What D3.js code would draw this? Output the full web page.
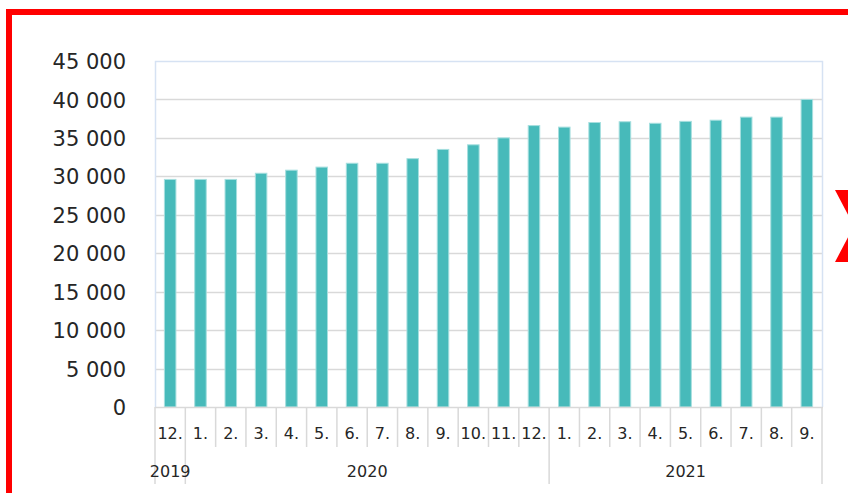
<!DOCTYPE html>
<html>
<head>
<meta charset="utf-8">
<script src="https://cdn.jsdelivr.net/npm/d3@7"></script>
<style>
  html, body { margin: 0; padding: 0; background: #fff; overflow: hidden; }
  svg { display: block; }
</style>
</head>
<body>
<svg id="chart" width="848" height="493"></svg>
<script>
// ---- data ----
const months = ["12.", "1.", "2.", "3.", "4.", "5.", "6.", "7.", "8.", "9.", "10.", "11.",
                "12.", "1.", "2.", "3.", "4.", "5.", "6.", "7.", "8.", "9."];
const values = [29600, 29600, 29600, 30400, 30800, 31200, 31700, 31700, 32300, 33500, 34100, 35000,
                36600, 36400, 37000, 37100, 36900, 37150, 37300, 37700, 37700, 40000];
const years = ["2019", "2020", "2021"];
const yearStart = [0, 1, 13];
const yearEnd = [0, 12, 21];
const yTicks = [0, 5000, 10000, 15000, 20000, 25000, 30000, 35000, 40000, 45000];

(function () {
// ---- layout ----
const W = 848, H = 493;
const pL = 155, pR = 822, pT = 61, pB = 407;
const svg = d3.select("#chart");
const fontFam = "'DejaVu Sans', sans-serif";

svg.append("rect").attr("width", W).attr("height", H).attr("fill", "#fff");

const x = d3.scaleBand().domain(d3.range(values.length)).range([pL, pR])
  .paddingInner(0.62).paddingOuter(0.31);
const y = d3.scaleLinear().domain([0, 45000]).range([pB, pT]);
const step = x.step();
const boundary = i => x(i) - step * x.paddingInner() / 2; // left edge of category i

// gridlines
svg.append("g").selectAll("line").data(yTicks.filter(t => t > 0 && t < 45000)).join("line")
  .attr("x1", pL).attr("x2", pR)
  .attr("y1", d => Math.round(y(d)) + 0.5).attr("y2", d => Math.round(y(d)) + 0.5)
  .attr("stroke", "#d9d9d9").attr("stroke-width", 1.5);

// plot border (light blue)
svg.append("path")
  .attr("d", `M${pL + 0.5},${pB} V${pT + 0.5} H${pR + 0.5} V${pB}`)
  .attr("fill", "none").attr("stroke", "#d6e2f3").attr("stroke-width", 1.5);

// bars
svg.append("g").selectAll("rect").data(values).join("rect")
  .attr("x", (d, i) => x(i))
  .attr("y", d => y(d))
  .attr("width", x.bandwidth())
  .attr("height", d => y(0) - y(d))
  .attr("fill", "#47baba")
  .attr("stroke", "#a6dfdf").attr("stroke-width", 1);

// y axis
const yAxis = d3.axisLeft(y).tickValues(yTicks).tickSize(0).tickPadding(29)
  .tickFormat(d => d3.format(",")(d).replace(/,/g, " "));
const gy = svg.append("g").attr("transform", `translate(${pL},0)`).call(yAxis);
gy.select(".domain").remove();
gy.selectAll("text").attr("font-family", fontFam).attr("font-size", 21).attr("fill", "#262626")
  .attr("dy", "0.36em");

// x axis line
svg.append("line").attr("x1", pL).attr("x2", pR + 1)
  .attr("y1", pB + 0.5).attr("y2", pB + 0.5)
  .attr("stroke", "#d9d9d9").attr("stroke-width", 1.5);

// category ticks
const gx = svg.append("g");
gx.selectAll("line.tick").data(d3.range(values.length + 1)).join("line")
  .attr("class", "tick")
  .attr("x1", i => i < values.length ? boundary(i) : pR)
  .attr("x2", i => i < values.length ? boundary(i) : pR)
  .attr("y1", pB).attr("y2", 447)
  .attr("stroke", "#d9d9d9").attr("stroke-width", 1.5);

gx.selectAll("text.month").data(months).join("text")
  .attr("class", "month")
  .attr("x", (d, i) => x(i) + x.bandwidth() / 2)
  .attr("y", 433)
  .attr("dy", "0.36em")
  .attr("text-anchor", "middle")
  .attr("font-family", fontFam).attr("font-size", 16).attr("fill", "#262626")
  .text(d => d);

// year separators
const sepIdx = [0, 1, 13];
gx.selectAll("line.sep").data(sepIdx.concat([values.length])).join("line")
  .attr("class", "sep")
  .attr("x1", i => i < values.length ? boundary(i) : pR)
  .attr("x2", i => i < values.length ? boundary(i) : pR)
  .attr("y1", 447).attr("y2", 484)
  .attr("stroke", "#d9d9d9").attr("stroke-width", 1.5);

gx.selectAll("text.year").data(years).join("text")
  .attr("class", "year")
  .attr("x", (d, k) => (boundary(yearStart[k]) + (yearEnd[k] + 1 < values.length ? boundary(yearEnd[k] + 1) : pR)) / 2)
  .attr("y", 471)
  .attr("dy", "0.36em")
  .attr("text-anchor", "middle")
  .attr("font-family", fontFam).attr("font-size", 16).attr("fill", "#262626")
  .text(d => d);

// red frame (extends beyond the visible area on right and bottom)
svg.append("rect").attr("x", 9).attr("y", 12).attr("width", 900).attr("height", 600)
  .attr("fill", "none").attr("stroke", "#ff0000").attr("stroke-width", 6);

// partial red cross mark at right edge (decorative shape, mostly outside the view)
svg.append("path")
  .attr("d", "M835,190 L850,190 L862,212 L874,190 L889,190 L870,226 L889,262 L874,262 L862,240 L850,262 L835,262 L854,226 Z")
  .attr("fill", "#ff0000");
})();
</script>
</body>
</html>
